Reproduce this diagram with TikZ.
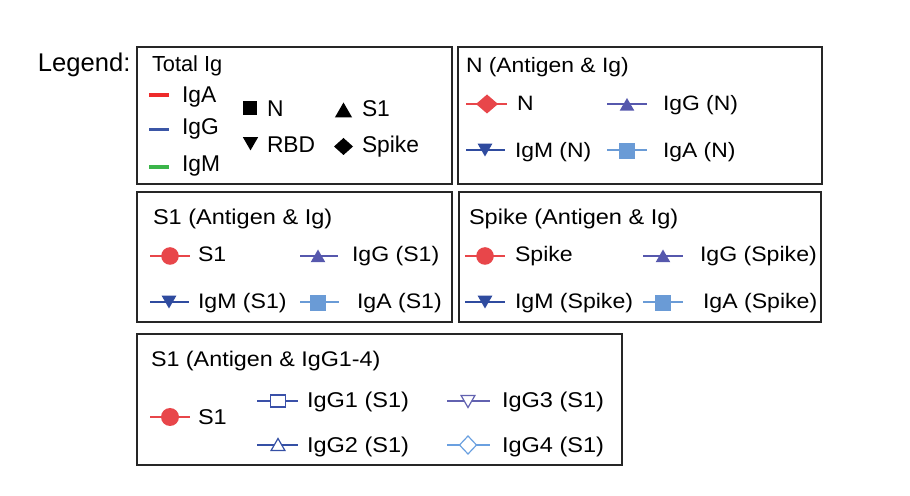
\documentclass[tikz,border=0pt]{standalone}
\usepackage{fontspec}
\setmainfont{Liberation Sans}
\newfontfamily\widefont{Liberation Sans}[FakeStretch=1.1]
\usepackage{tikz}
\usetikzlibrary{shapes.geometric}

\definecolor{redA}{HTML}{EE2B2B}
\definecolor{blueG}{HTML}{3B56A6}
\definecolor{greenM}{HTML}{3BB54A}
\definecolor{antiRed}{HTML}{E8464A}
\definecolor{iggBlue}{HTML}{5658AD}
\definecolor{igmBlue}{HTML}{2F4B9F}
\definecolor{igaBlue}{HTML}{6A9BD6}
\definecolor{gOne}{HTML}{3A50A8}
\definecolor{gTwo}{HTML}{3550A5}
\definecolor{gThree}{HTML}{6262B0}
\definecolor{gFour}{HTML}{6AA0E0}

\begin{document}
\begin{tikzpicture}[x=0.5pt, y=-0.5pt,
    frame/.style={draw=black!85, line width=0.65pt},
    lbl/.style={anchor=base west, inner sep=0pt, outer sep=0pt},
    tplain/.style={lbl, font=\fontsize{10.9}{12}\selectfont},
    tbig/.style={lbl, font=\fontsize{11.4}{13}\selectfont},
    twide/.style={lbl, font=\widefont\fontsize{10.5}{12}\selectfont},
    sample/.style={line width=0.6pt},
    thick line/.style={line width=1.8pt},
    mk/.style={inner sep=0pt, outer sep=0pt},
    sqmk/.style={mk, rectangle, minimum size=7.8pt},
    dotmk/.style={mk, circle, minimum size=8.8pt},
    trimk/.style={mk, regular polygon, regular polygon sides=3, minimum size=8.5pt},
    itrimk/.style={trimk, shape border rotate=180},
    diamk/.style={mk, diamond, minimum width=11pt, minimum height=9.5pt},
    ]
    \useasboundingbox (0,0) rectangle (910,496);

    \node [lbl, font=\fontsize{12.8}{14}\selectfont] (legend) at (38,72) {Legend:};

    % Total Ig
    \draw [frame] (137,47) rectangle (452,184);
    \node [tplain] (totTitle) at (152,72) {Total Ig};
    \draw [thick line, redA] (149,95) -- (169,95);
    \node [tbig] (totA) at (182,103) {IgA};
    \draw [thick line, blueG] (149,129.5) -- (169,129.5);
    \node [tbig] (totG) at (182,135) {IgG};
    \draw [thick line, greenM] (149,167) -- (169,167);
    \node [tbig] (totM) at (182,171.5) {IgM};
    \node [sqmk, fill=black, minimum size=7pt] (mkN) at (249.5,108.5) {};
    \node [tbig] (totN) at (267,117) {N};
    \node [trimk, fill=black, minimum size=10pt] (mkS) at (343.5,112.5) {};
    \node [tbig] (totS) at (362,117) {S1};
    \node [itrimk, fill=black, minimum size=8.9pt] (mkR) at (250.5,141.5) {};
    \node [tbig] (totR) at (267,153) {RBD};
    \node [diamk, fill=black, minimum width=9.5pt, minimum height=8.5pt] (mkP) at (343.5,146.5) {};
    \node [tbig] (totP) at (362,153) {Spike};

    % N (Antigen & Ig)
    \draw [frame] (458,47) rectangle (822,184);
    \node [twide, font=\widefont\fontsize{10.4}{12}\selectfont] (nTitle) at (466,73) {N (Antigen \& Ig)};
    \draw [sample, antiRed] (466,104) -- (507,104);
    \node [diamk, fill=antiRed] (nAg) at (487,104) {};
    \node [twide, font=\widefont\fontsize{10.4}{12}\selectfont] (nAgT) at (517,111) {N};
    \draw [sample, iggBlue] (607,104) -- (647,104);
    \node [trimk, fill=iggBlue] (nG) at (627,106.5) {};
    \node [twide, font=\widefont\fontsize{10.4}{12}\selectfont] (nGT) at (663,111) {IgG (N)};
    \draw [sample, igmBlue] (466,150) -- (505,150);
    \node [itrimk, fill=igmBlue] (nM) at (485,148) {};
    \node [twide, font=\widefont\fontsize{10.4}{12}\selectfont] (nMT) at (515,158) {IgM (N)};
    \draw [sample, igaBlue] (607,150) -- (647,150);
    \node [sqmk, fill=igaBlue] (nA) at (627,151) {};
    \node [twide, font=\widefont\fontsize{10.4}{12}\selectfont] (nAT) at (663,158) {IgA (N)};

    % S1 (Antigen & Ig)
    \draw [frame] (137,192) rectangle (452,322);
    \node [twide, font=\widefont\fontsize{10.7}{12}\selectfont] (sTitle) at (153,225) {S1 (Antigen \& Ig)};
    \draw [sample, antiRed] (150,256) -- (190,256);
    \node [dotmk, fill=antiRed] (sAg) at (170,256) {};
    \node [twide] (sAgT) at (198,262) {S1};
    \draw [sample, iggBlue] (300,256) -- (338,256);
    \node [trimk, fill=iggBlue] (sG) at (318,258) {};
    \node [twide] (sGT) at (352,262) {IgG (S1)};
    \draw [sample, igmBlue] (150,302) -- (189,302);
    \node [itrimk, fill=igmBlue] (sM) at (169,300) {};
    \node [twide] (sMT) at (198,309) {IgM (S1)};
    \draw [sample, igaBlue] (300,302) -- (339,302);
    \node [sqmk, fill=igaBlue] (sA) at (318,303) {};
    \node [twide] (sAT) at (357,309) {IgA (S1)};

    % Spike (Antigen & Ig)
    \draw [frame] (459,192) rectangle (821,322);
    \node [twide, font=\widefont\fontsize{10.7}{12}\selectfont] (pTitle) at (469,225) {Spike (Antigen \& Ig)};
    \draw [sample, antiRed] (465,256) -- (505,256);
    \node [dotmk, fill=antiRed] (pAg) at (485,256) {};
    \node [twide] (pAgT) at (515,262) {Spike};
    \draw [sample, iggBlue] (643,256) -- (683,256);
    \node [trimk, fill=iggBlue] (pG) at (663,258) {};
    \node [twide] (pGT) at (700,262) {IgG (Spike)};
    \draw [sample, igmBlue] (465,302) -- (505,302);
    \node [itrimk, fill=igmBlue] (pM) at (485,300) {};
    \node [twide] (pMT) at (515,309) {IgM (Spike)};
    \draw [sample, igaBlue] (643,302) -- (683,302);
    \node [sqmk, fill=igaBlue] (pA) at (663,303) {};
    \node [twide] (pAT) at (703,309) {IgA (Spike)};

    % S1 (Antigen & IgG1-4)
    \draw [frame] (137,334) rectangle (622,465);
    \node [twide, font=\widefont\fontsize{10.6}{12}\selectfont] (gTitle) at (151,367) {S1 (Antigen \& IgG1-4)};
    \draw [sample, antiRed] (150,417) -- (190,417);
    \node [dotmk, fill=antiRed, minimum size=9pt] (gAg) at (170,417) {};
    \node [twide, font=\widefont\fontsize{10.7}{12}\selectfont] (gAgT) at (198,425) {S1};
    \draw [sample, gOne] (257,401) -- (298,401);
    \node [sqmk, draw=gOne, fill=white, line width=0.6pt, minimum width=7.5pt, minimum height=6pt] (gOneMk) at (278,401) {};
    \node [twide, font=\widefont\fontsize{10.7}{12}\selectfont] (gOneT) at (307,408) {IgG1 (S1)};
    \draw [sample, gTwo] (257,445) -- (298,445);
    \node [trimk, draw=gTwo, fill=white, line width=0.6pt, minimum size=8pt] (gTwoMk) at (278,446.5) {};
    \node [twide, font=\widefont\fontsize{10.7}{12}\selectfont] (gTwoT) at (307,452) {IgG2 (S1)};
    \draw [sample, gThree] (447,401) -- (490,401);
    \node [itrimk, draw=gThree, fill=white, line width=0.6pt, minimum size=8pt] (gThreeMk) at (468,399.5) {};
    \node [twide, font=\widefont\fontsize{10.7}{12}\selectfont] (gThreeT) at (502,408) {IgG3 (S1)};
    \draw [sample, gFour] (447,445) -- (490,445);
    \node [diamk, draw=gFour, fill=white, line width=0.6pt, minimum width=8.5pt, minimum height=9pt] (gFourMk) at (468,445) {};
    \node [twide, font=\widefont\fontsize{10.7}{12}\selectfont] (gFourT) at (502,452) {IgG4 (S1)};
\end{tikzpicture}
\end{document}
